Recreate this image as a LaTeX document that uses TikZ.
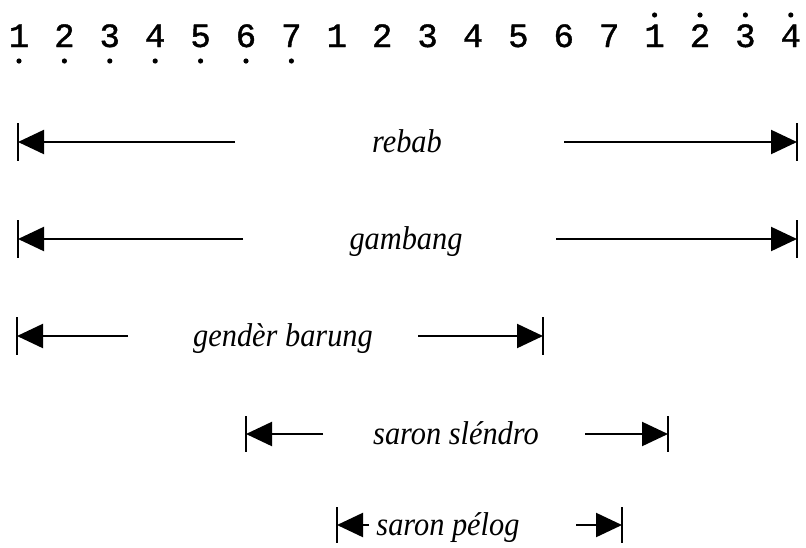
\documentclass[tikz,border=0pt]{standalone}
\usepackage{fontspec}
\setmainfont{Liberation Serif}
\newfontfamily\digitfont[FakeBold=1.2]{Liberation Mono}
\usetikzlibrary{arrows.meta}
\begin{document}
\begin{tikzpicture}[x=1pt,y=-1pt,
  lbl/.style={font=\fontsize{33}{33}\selectfont\itshape, inner sep=0pt, anchor=base, xscale=0.92},
  num/.style={font=\fontsize{34}{34}\selectfont\digitfont, inner sep=0pt, anchor=base},
  dotmark/.style={fill=black},
  rng/.style={line width=2.2pt, -{Triangle[length=26pt,width=24pt]}},
  endbar/.style={line width=2pt}
]
\useasboundingbox (0,0) rectangle (806,547);
% scale digits
\foreach \d [count=\i from 0] in {1,2,3,4,5,6,7,1,2,3,4,5,6,7,1,2,3,4}{
  \node[num] (n\i) at ({19+45.4*\i},47) {\d};
}
\foreach \i in {0,...,6}{ \fill[dotmark] ({19+45.4*\i},61) circle (2.6); }
\foreach \i in {14,...,17}{ \fill[dotmark] ({19+45.4*\i},15) circle (2.6); }

% rebab
\node[lbl] (rebab) at (407,152) {rebab};
\coordinate (rebabL) at (18,142); \coordinate (rebabR) at (797,142);
\coordinate (rebabl) at (235,142); \coordinate (rebabr) at (564,142);
\draw[rng] (rebabl) -- (rebabL); \draw[rng] (rebabr) -- (rebabR);
\draw[endbar] (rebabL) ++(0,-19) -- ++(0,38);
\draw[endbar] (rebabR) ++(0,-19) -- ++(0,38);

% gambang
\node[lbl] (gambang) at (406,249) {gambang};
\coordinate (gambangL) at (18,239); \coordinate (gambangR) at (797,239);
\coordinate (gambangl) at (243,239); \coordinate (gambangr) at (556,239);
\draw[rng] (gambangl) -- (gambangL); \draw[rng] (gambangr) -- (gambangR);
\draw[endbar] (gambangL) ++(0,-19) -- ++(0,38);
\draw[endbar] (gambangR) ++(0,-19) -- ++(0,38);

% gender barung
\node[lbl] (gender) at (283,346) {gendèr barung};
\coordinate (genderL) at (17,336); \coordinate (genderR) at (543,336);
\coordinate (genderl) at (128,336); \coordinate (genderr) at (418,336);
\draw[rng] (genderl) -- (genderL); \draw[rng] (genderr) -- (genderR);
\draw[endbar] (genderL) ++(0,-19) -- ++(0,38);
\draw[endbar] (genderR) ++(0,-19) -- ++(0,38);

% saron slendro
\node[lbl] (slendro) at (456,444) {saron sléndro};
\coordinate (slendroL) at (246,434); \coordinate (slendroR) at (668,434);
\coordinate (slendrol) at (323,434); \coordinate (slendror) at (585,434);
\draw[rng] (slendrol) -- (slendroL); \draw[rng] (slendror) -- (slendroR);
\draw[endbar] (slendroL) ++(0,-18) -- ++(0,36);
\draw[endbar] (slendroR) ++(0,-18) -- ++(0,36);

% saron pelog
\node[lbl] (pelog) at (448,535) {saron pélog};
\coordinate (pelogL) at (337,525); \coordinate (pelogR) at (622,525);
\coordinate (pelogl) at (369,525); \coordinate (pelogr) at (576,525);
\draw[rng] (pelogl) -- (pelogL); \draw[rng] (pelogr) -- (pelogR);
\draw[endbar] (pelogL) ++(0,-18) -- ++(0,36);
\draw[endbar] (pelogR) ++(0,-18) -- ++(0,36);
\end{tikzpicture}
\end{document}
